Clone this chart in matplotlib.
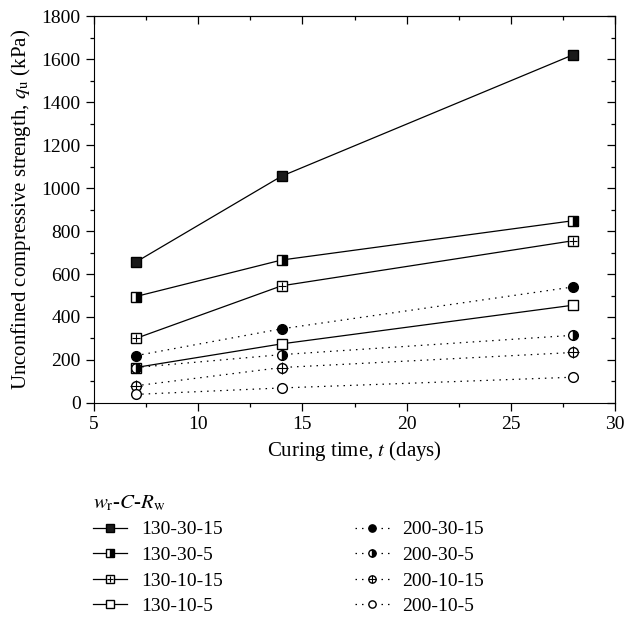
import matplotlib.pyplot as plt
from matplotlib.legend_handler import HandlerTuple

plt.rcParams['font.family'] = ['Liberation Serif', 'DejaVu Serif']
plt.rcParams['mathtext.fontset'] = 'stix'

days = [7, 14, 28]

# w_r-C-R_w series, qu in kPa
s130_30_15 = [655, 1055, 1620]
s130_30_5 = [495, 665, 848]
s130_10_15 = [300, 545, 755]
s130_10_5 = [165, 275, 455]
s200_30_15 = [220, 345, 540]
s200_30_5 = [165, 225, 315]
s200_10_15 = [80, 165, 235]
s200_10_5 = [40, 70, 120]

fig = plt.figure(figsize=(6.25, 6.18), dpi=100)
ax = fig.add_axes([0.1504, 0.3479, 0.8336, 0.6262])

ms = 7
dot = (0, (1.2, 4))
common = dict(color='black', lw=0.9, ms=ms, mec='black', mew=1.0)

h1, = ax.plot(days, s130_30_15, '-', marker='s', mfc='#1a1a1a', **common)
h2, = ax.plot(days, s130_30_5, '-', marker='s', mfc='black', fillstyle='right',
              markerfacecoloralt='white', **common)
h3, = ax.plot(days, s130_10_15, '-', marker='s', mfc='white', **common)
p3, = ax.plot(days, s130_10_15, ls='none', marker='+', ms=ms - 1, mew=0.8, color='black')
h4, = ax.plot(days, s130_10_5, '-', marker='s', mfc='white', **common)

h5, = ax.plot(days, s200_30_15, ls=dot, marker='o', mfc='black', **common)
h6, = ax.plot(days, s200_30_5, ls=dot, marker='o', mfc='black', fillstyle='right',
              markerfacecoloralt='white', **common)
h7, = ax.plot(days, s200_10_15, ls=dot, marker='o', mfc='white', **common)
p7, = ax.plot(days, s200_10_15, ls='none', marker='+', ms=ms + 1, mew=0.8, color='black')
h8, = ax.plot(days, s200_10_5, ls=dot, marker='o', mfc='white', **common)

xmaj = [5, 10, 15, 20, 25, 30]
xmin = [7.5, 12.5, 17.5, 22.5, 27.5]
ymaj = list(range(0, 1801, 200))
ymin = list(range(100, 1800, 200))

ax.set_xlim(5, 30)
ax.set_ylim(0, 1800)
ax.set_xticks(xmaj)
ax.set_xticks(xmin, minor=True)
ax.set_yticks(ymaj)
ax.set_yticks(ymin, minor=True)
ax.tick_params(which='both', direction='out', labelsize=14, width=0.9)
ax.tick_params(which='major', length=6)
ax.tick_params(which='minor', length=3)

top = ax.secondary_xaxis('top')
top.set_xticks(xmaj)
top.set_xticks(xmin, minor=True)
top.tick_params(which='both', direction='in', labeltop=False, width=0.9)
top.tick_params(which='major', length=6)
top.tick_params(which='minor', length=3)
right = ax.secondary_yaxis('right')
right.set_yticks(ymaj)
right.set_yticks(ymin, minor=True)
right.tick_params(which='both', direction='in', labelright=False, width=0.9)
right.tick_params(which='major', length=6)
right.tick_params(which='minor', length=3)

ax.set_xlabel(r'Curing time, $t$ (days)', fontsize=15, labelpad=4)
ax.set_ylabel(r'Unconfined compressive strength, $q_\mathrm{u}$ (kPa)', fontsize=15, labelpad=6)

handles = [h1, h2, (h3, p3), h4, h5, h6, (h7, p7), h8]
labels = ['130-30-15', '130-30-5', '130-10-15', '130-10-5',
          '200-30-15', '200-30-5', '200-10-15', '200-10-5']
leg = fig.legend(handles, labels, loc='upper left', bbox_to_anchor=(0.149, 0.202),
                 ncol=2, frameon=False, fontsize=14, columnspacing=6.8,
                 handlelength=1.75, handletextpad=0.7, labelspacing=0.41,
                 borderaxespad=0, borderpad=0,
                 title=r'$w_\mathrm{r}$-$C$-$R_\mathrm{w}$', title_fontsize=15,
                 alignment='left', markerscale=0.75,
                 handler_map={tuple: HandlerTuple(ndivide=1)})

fig.savefig('out.png', dpi=100)
